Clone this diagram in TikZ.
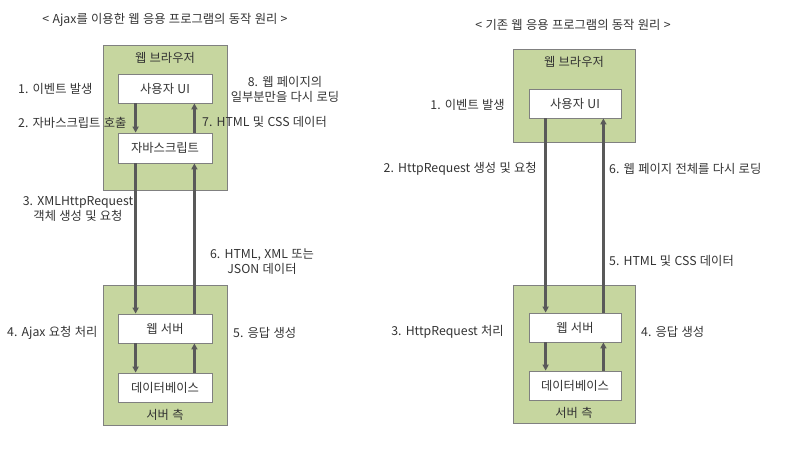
\documentclass[tikz,border=0pt]{standalone}
\usepackage{fontspec}
\setmainfont{Noto Sans CJK KR}[WordSpace=1.2]
\usepackage{tikz}
\usetikzlibrary{arrows.meta,positioning}
\definecolor{cside}{HTML}{C6D69F}
\definecolor{cedge}{HTML}{808080}
\definecolor{carrow}{HTML}{595959}
\definecolor{ctext}{HTML}{333333}

\begin{document}
\begin{tikzpicture}[x=1pt, y=-1pt,
  font=\fontsize{12.3}{15}\selectfont, text=ctext,
  side/.style={draw=cedge, fill=cside, line width=0.8pt, inner sep=0pt},
  box/.style={draw=cedge, fill=white, line width=0.8pt, inner sep=0pt, minimum height=29pt},
  lbl/.style={align=center, inner sep=0pt},
  ar/.style={-{Triangle[length=6pt, width=6pt]}, draw=carrow, line width=2.4pt}]
\useasboundingbox (0,0) rectangle (797,463);
% ajax
\node[lbl] (t1) at (165,20) {< Ajax를 이용한 웹 응용 프로그램의 동작 원리 >};
\node[side, minimum width=124pt, minimum height=145pt] (br1) at (165,117.5) {};
\node[lbl] (brl1) at (165,58) {웹 브라우저};
\node[box, minimum width=94pt] (ui1) at (165,88.5) {사용자 UI};
\node[box, minimum width=94pt, minimum height=30pt] (js1) at (165,148) {자바스크립트};
\node[side, minimum width=124pt, minimum height=140pt] (sv1) at (165,355) {};
\node[box, minimum width=94pt] (ws1) at (165,328.5) {웹 서버};
\node[box, minimum width=94pt] (db1) at (165,387.5) {데이터베이스};
\node[lbl] (svl1) at (165,415) {서버 측};
\draw[ar] ([xshift=18pt]ui1.south west) -- ([xshift=18pt]js1.north west);
\draw[ar] ([xshift=-18pt]js1.north east) -- ([xshift=-18pt]ui1.south east);
\draw[ar] ([xshift=18pt]js1.south west) -- ([xshift=18pt]ws1.north west);
\draw[ar] ([xshift=-18pt]ws1.north east) -- ([xshift=-18pt]js1.south east);
\draw[ar] ([xshift=18pt]ws1.south west) -- ([xshift=18pt]db1.north west);
\draw[ar] ([xshift=-18pt]db1.north east) -- ([xshift=-18pt]ws1.south east);
\node[lbl, anchor=west] (a1) at (18,89) {1. 이벤트 발생};
\node[lbl, anchor=west] (a2) at (18,123) {2. 자바스크립트 호출};
\node[lbl] (a3) at (78,209) {3. XMLHttpRequest\\객체 생성 및 요청};
\node[lbl, anchor=west] (a4) at (7,333) {4. Ajax 요청 처리};
\node[lbl, anchor=west] (a5) at (233,333) {5. 응답 생성};
\node[lbl] (a6) at (262,262) {6. HTML, XML 또는\\JSON 데이터};
\node[lbl, anchor=west] (a7) at (202,122) {7. HTML 및 CSS 데이터};
\node[lbl] (a8) at (285,89) {8. 웹 페이지의\\일부분만을 다시 로딩};
% classic
\node[lbl] (t2) at (573,25) {< 기존 웹 응용 프로그램의 동작 원리 >};
\node[side, minimum width=122pt, minimum height=93pt] (br2) at (574,95.5) {};
\node[lbl] (brl2) at (574,62) {웹 브라우저};
\node[box, minimum width=92pt] (ui2) at (575,103.5) {사용자 UI};
\node[side, minimum width=122pt, minimum height=138pt] (sv2) at (574,354) {};
\node[box, minimum width=92pt] (ws2) at (575,327.5) {웹 서버};
\node[box, minimum width=92pt] (db2) at (575,385.5) {데이터베이스};
\node[lbl] (svl2) at (574,413) {서버 측};
\draw[ar] ([xshift=17pt]ui2.south west) -- ([xshift=17pt]ws2.north west);
\draw[ar] ([xshift=-18pt]ws2.north east) -- ([xshift=-18pt]ui2.south east);
\draw[ar] ([xshift=17pt]ws2.south west) -- ([xshift=17pt]db2.north west);
\draw[ar] ([xshift=-18pt]db2.north east) -- ([xshift=-18pt]ws2.south east);
\node[lbl, anchor=east] (b1) at (505,105) {1. 이벤트 발생};
\node[lbl, anchor=east] (b2) at (537,169) {2. HttpRequest 생성 및 요청};
\node[lbl, anchor=east] (b3) at (504,332) {3. HttpRequest 처리};
\node[lbl, anchor=west] (b4) at (641,332) {4. 응답 생성};
\node[lbl, anchor=west] (b5) at (609,261) {5. HTML 및 CSS 데이터};
\node[lbl, anchor=west] (b6) at (609,169) {6. 웹 페이지 전체를 다시 로딩};
\end{tikzpicture}
\end{document}
